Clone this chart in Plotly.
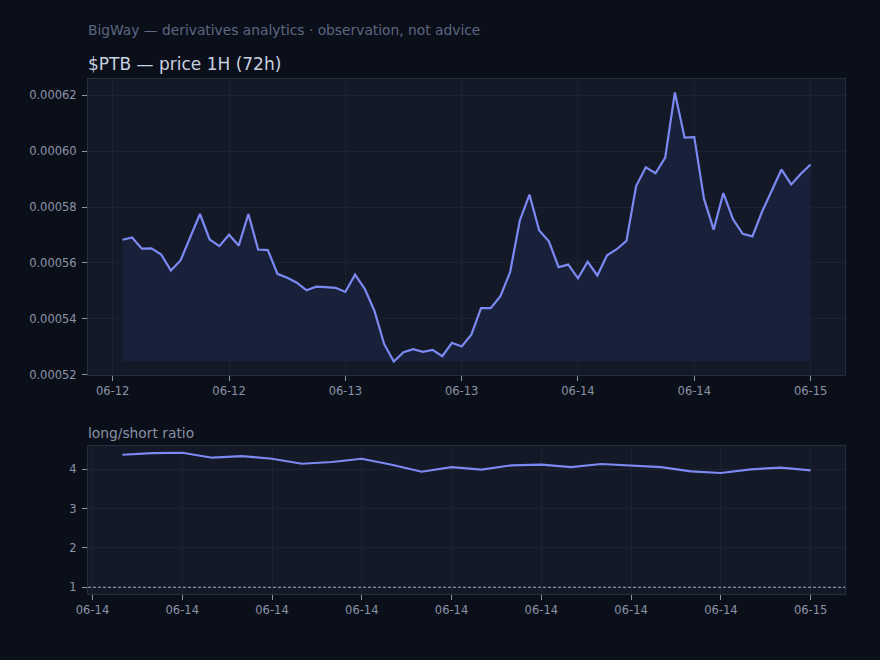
import pandas as pd
import plotly.graph_objects as go

# ---------------- data ----------------
price_start = "2025-06-12 01:00"
price = [
    0.0005683, 0.0005691, 0.0005651, 0.0005652, 0.0005630, 0.0005573, 0.0005609, 0.0005690,
    0.0005775, 0.0005684, 0.0005660, 0.0005701, 0.0005662, 0.0005775, 0.0005648, 0.0005646,
    0.0005561, 0.0005547, 0.0005529, 0.0005502, 0.0005515, 0.0005513, 0.0005511, 0.0005496,
    0.0005558, 0.0005507, 0.0005429, 0.0005310, 0.0005247, 0.0005280, 0.0005291, 0.0005282,
    0.0005289, 0.0005266, 0.0005314, 0.0005301, 0.0005343, 0.0005438, 0.0005438, 0.0005481,
    0.0005567, 0.0005752, 0.0005844, 0.0005716, 0.0005677, 0.0005585, 0.0005594, 0.0005545,
    0.0005604, 0.0005555, 0.0005627, 0.0005649, 0.0005679, 0.0005875, 0.0005942, 0.0005921,
    0.0005977, 0.0006210, 0.0006048, 0.0006050, 0.0005830, 0.0005719, 0.0005850, 0.0005756,
    0.0005704, 0.0005695, 0.0005784, 0.0005859, 0.0005934, 0.0005881, 0.0005919, 0.0005952,
]
ratio_start = "2025-06-14 01:00"
ratio = [
    4.371, 4.414, 4.422, 4.295, 4.338, 4.269, 4.142, 4.186,
    4.269, 4.117, 3.939, 4.058, 3.990, 4.102, 4.117, 4.058,
    4.135, 4.102, 4.058, 3.949, 3.906, 4.000, 4.041, 3.975,
]
price_ticks = pd.date_range("2025-06-12 00:00", "2025-06-15 00:00", freq="12h")
ratio_ticks = pd.date_range("2025-06-14 00:00", "2025-06-15 00:00", freq="3h")
price_yticks = [0.00052, 0.00054, 0.00056, 0.00058, 0.00060, 0.00062]
ratio_yticks = [1, 2, 3, 4]
ratio_ref = 1.0

title_sub = "BigWay — derivatives analytics · observation, not advice"
title_main = "$PTB — price 1H (72h)"
title_ratio = "long/short ratio"

# ---------------- styling ----------------
BG = "#0b0f1a"
PLOT_BG = "#131926"
LINE = "#7c89f2"
FILL = "#19203a"
GRID = "#1c2232"
SPINE = "#262d3d"
TICK = "#8b93a7"
FONT = "DejaVu Sans"

px_t = pd.date_range(price_start, periods=len(price), freq="1h")
rx_t = pd.date_range(ratio_start, periods=len(ratio), freq="1h")

def pad_range(t):
    span = t[-1] - t[0]
    return [t[0] - span * 0.05, t[-1] + span * 0.05]

pmin, pmax = min(price), max(price)
pm = (pmax - pmin) * 0.05
rmin, rmax = min(min(ratio), ratio_ref), max(ratio)
rm = (rmax - rmin) * 0.05

fig = go.Figure()
fig.add_trace(go.Scatter(x=px_t, y=[pmin] * len(price), mode="lines",
                         line=dict(width=0, color=FILL), hoverinfo="skip",
                         showlegend=False, xaxis="x", yaxis="y"))
fig.add_trace(go.Scatter(x=px_t, y=price, mode="lines", fill="tonexty",
                         fillcolor=FILL, line=dict(color=LINE, width=2.2),
                         showlegend=False, xaxis="x", yaxis="y"))
fig.add_trace(go.Scatter(x=rx_t, y=ratio, mode="lines",
                         line=dict(color=LINE, width=2.2),
                         showlegend=False, xaxis="x2", yaxis="y2"))

W, H = 880, 660
ML, MR, MT, MB = 88, 35, 79, 66
PH = H - MT - MB  # plot area height in px


def py(ypx):
    """paper y-coordinate of a pixel row"""
    return (H - MB - ypx) / PH


axis_common = dict(
    showline=True, linecolor=SPINE, linewidth=1, mirror=True,
    ticks="outside", ticklen=5, tickcolor=TICK, tickwidth=1,
    showgrid=True, gridcolor=GRID, gridwidth=1, zeroline=False,
    automargin=False,
    tickfont=dict(family=FONT, size=11.5, color=TICK),
)

fig.update_layout(
    width=W, height=H,
    margin=dict(l=ML, r=MR, t=MT, b=MB, autoexpand=False),
    paper_bgcolor=BG, plot_bgcolor=PLOT_BG,
    font=dict(family=FONT, color=TICK),
    xaxis=dict(domain=[0, 1], anchor="y", type="date", range=pad_range(px_t),
               tickvals=list(price_ticks), tickformat="%m-%d", **axis_common),
    yaxis=dict(domain=[py(375), 1], anchor="x", ticklabelstandoff=3,
               range=[pmin - pm, pmax + pm], tickvals=price_yticks,
               tickformat=".5f", **axis_common),
    xaxis2=dict(domain=[0, 1], anchor="y2", type="date", range=pad_range(rx_t),
                tickvals=list(ratio_ticks), tickformat="%m-%d", **axis_common),
    yaxis2=dict(domain=[0, py(446)], anchor="x2", ticklabelstandoff=3,
                range=[rmin - rm, rmax + rm], tickvals=ratio_yticks,
                tickformat="d", **axis_common),
    shapes=[dict(type="line", xref="x2 domain", yref="y2", x0=0, x1=1,
                 y0=ratio_ref, y1=ratio_ref,
                 line=dict(color="#a3abbd", width=1, dash="3px,2px"))],
    annotations=[
        dict(text=title_sub, x=0, y=py(30), xref="paper", yref="paper", xshift=-2,
             xanchor="left", yanchor="middle", showarrow=False,
             font=dict(family=FONT, size=13.8, color="#5d6781")),
        dict(text=title_main, x=0, y=py(64), xref="paper", yref="paper", xshift=-2,
             xanchor="left", yanchor="middle", showarrow=False,
             font=dict(family=FONT, size=17, color="#c9d1e0")),
        dict(text=title_ratio, x=0, y=py(433), xref="paper", yref="paper", xshift=-2,
             xanchor="left", yanchor="middle", showarrow=False,
             font=dict(family=FONT, size=13.8, color="#8891a5")),
    ],
)

fig.write_html("out.html")
